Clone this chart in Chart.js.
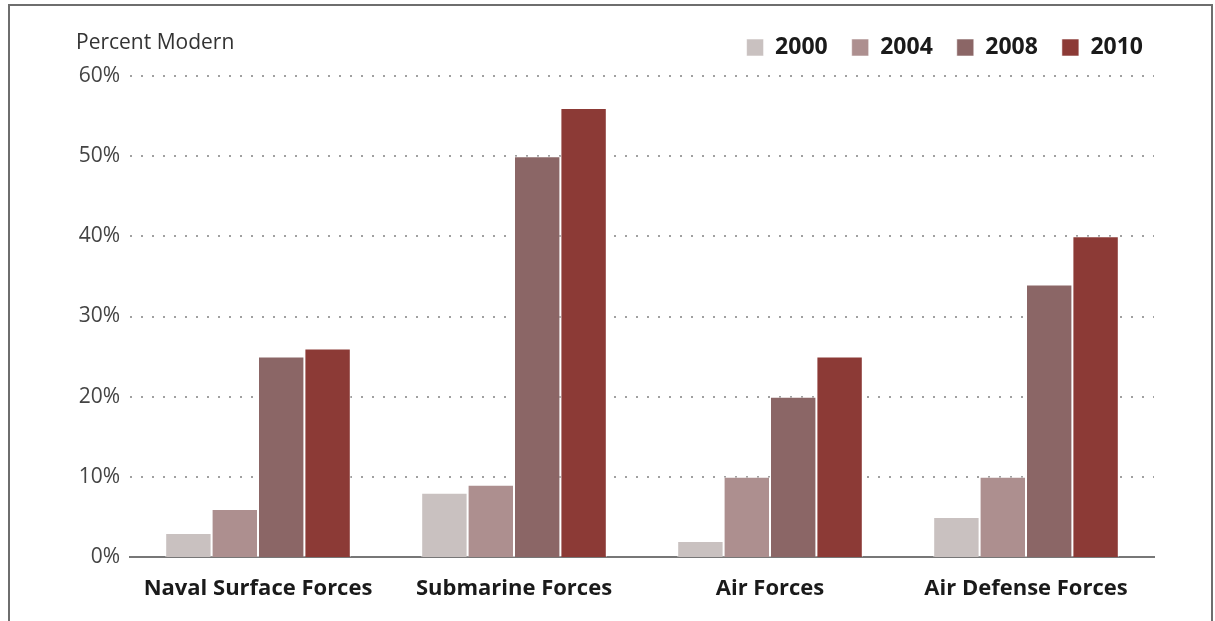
<!DOCTYPE html>
<html>
<head>
<meta charset="utf-8">
<script src="https://cdn.jsdelivr.net/npm/chart.js@4.4.1/dist/chart.umd.min.js"></script>
<style>
  html, body { margin: 0; padding: 0; background: #fff; }
  #wrap { width: 1215px; height: 621px; position: relative; }
</style>
</head>
<body>
<div id="wrap"><canvas id="c"></canvas></div>
<script>
const categories = ["Naval Surface Forces", "Submarine Forces", "Air Forces", "Air Defense Forces"];
const seriesNames = ["2000", "2004", "2008", "2010"];
const values2000 = [3, 8, 2, 5];
const values2004 = [6, 9, 10, 10];
const values2008 = [25, 50, 20, 34];
const values2010 = [26, 56, 25, 40];
const yTicks = [0, 10, 20, 30, 40, 50, 60];
const yAxisTitle = "Percent Modern";

const colors = ["#c9c1c0", "#ad8f8f", "#8b6666", "#8c3a36"];
const seriesValues = [values2000, values2004, values2008, values2010];

const framePlugin = {
  id: 'frame',
  beforeDraw(chart) {
    const ctx = chart.ctx;
    ctx.save();
    ctx.fillStyle = '#fff';
    ctx.fillRect(0, 0, chart.width, chart.height);
    ctx.strokeStyle = '#6e6e6e';
    ctx.lineWidth = 2;
    ctx.strokeRect(9, 5, 1203, 700);
    ctx.restore();
  },
  afterDraw(chart) {
    const ctx = chart.ctx;
    ctx.save();
    ctx.fillStyle = '#333';
    ctx.font = '21px "Open Sans"';
    ctx.textAlign = 'left';
    ctx.textBaseline = 'middle';
    ctx.fillText(yAxisTitle, 76, 43);
    ctx.restore();
  }
};

new Chart(document.getElementById('c'), {
  type: 'bar',
  data: {
    labels: categories,
    datasets: seriesNames.map((n, i) => ({
      label: n,
      data: seriesValues[i],
      backgroundColor: colors[i],
      borderColor: 'rgba(255,255,255,0.55)',
      borderWidth: 1,
      categoryPercentage: 0.725,
      barPercentage: 1.0
    }))
  },
  options: {
    responsive: true,
    maintainAspectRatio: false,
    animation: false,
    devicePixelRatio: 1,
    layout: { padding: { left: 0, right: 48, top: 12, bottom: 0 } },
    plugins: {
      title: { display: false },
      tooltip: { enabled: false },
      legend: {
        display: true,
        position: 'top',
        align: 'end',
        labels: {
          boxWidth: 17,
          boxHeight: 17,
          padding: 24,
          color: '#1a1a1a',
          font: { family: '"Open Sans"', size: 23, weight: 'bold' }
        }
      }
    },
    scales: {
      x: {
        grid: { display: false, drawTicks: false },
        border: { display: true, color: '#777', width: 2 },
        ticks: {
          color: '#1a1a1a',
          padding: 19,
          font: { family: '"Open Sans"', size: 22, weight: 'bold' }
        },
        afterFit(scale) { scale.height = 64; }
      },
      xTop: {
        type: 'category',
        position: 'top',
        display: true,
        grid: { display: false, drawTicks: false },
        border: { display: false },
        ticks: { display: false },
        afterFit(scale) { scale.height = 7; }
      },
      yRight: {
        type: 'linear',
        position: 'right',
        display: true,
        grid: { display: false, drawTicks: false },
        border: { display: false },
        ticks: { display: false },
        afterFit(scale) { scale.width = 13; }
      },
      y: {
        min: 0,
        max: 60,
        afterBuildTicks(scale) { scale.ticks = yTicks.map(v => ({ value: v })); },
        grid: {
          drawTicks: false,
          color: (ctx) => ctx.tick && ctx.tick.value === 0 ? 'rgba(0,0,0,0)' : '#a0a0a0',
          lineWidth: 2
        },
        border: { display: false, dash: [2, 9] },
        ticks: {
          color: '#444',
          padding: 10,
          font: { family: '"Open Sans"', size: 21 },
          callback: (v) => v + '%'
        },
        afterFit(scale) { scale.width = 130; }
      }
    }
  },
  plugins: [framePlugin]
});
</script>
</body>
</html>
